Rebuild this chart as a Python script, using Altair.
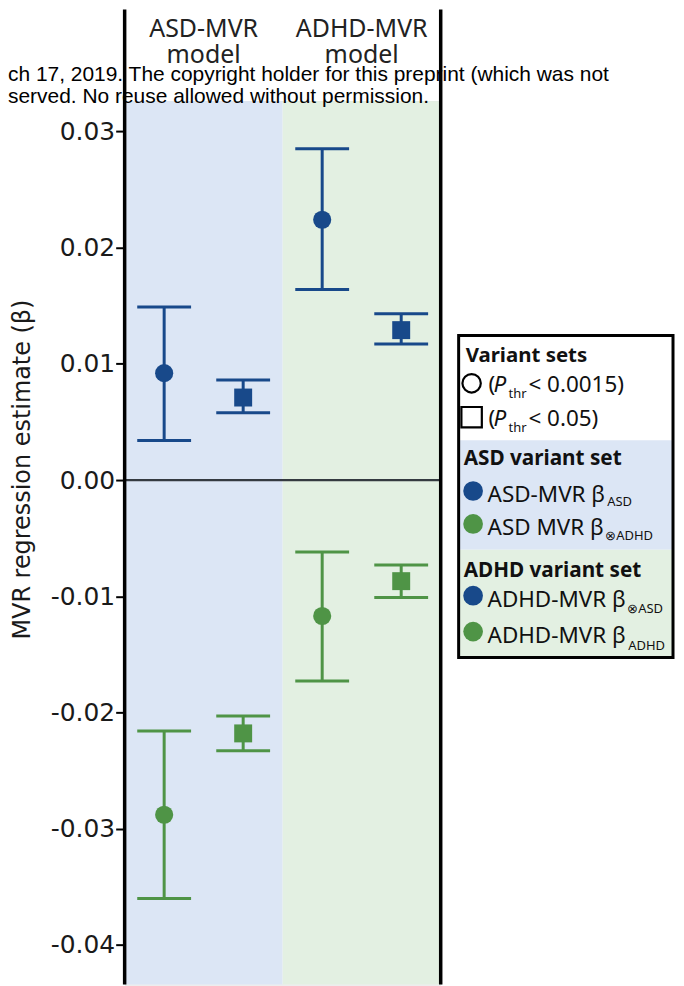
import altair as alt
import pandas as pd

# ---------------- data ----------------
models = ["ASD-MVR", "ADHD-MVR"]
header_line1 = ["ASD-MVR", "ADHD-MVR"]
header_line2 = ["model", "model"]

slots = ["ASD-MVR / Pthr<0.0015", "ASD-MVR / Pthr<0.05",
         "ADHD-MVR / Pthr<0.0015", "ADHD-MVR / Pthr<0.05"]
slot_threshold = ["P<0.0015", "P<0.05", "P<0.0015", "P<0.05"]
thresholds = ["P<0.0015", "P<0.05"]

# beta on ASD (blue)
blue_est = [0.0092, 0.0071, 0.0224, 0.0129]
blue_lo = [0.0034, 0.0058, 0.0164, 0.0117]
blue_hi = [0.0149, 0.0086, 0.0285, 0.0143]
# beta on ADHD (green)
green_est = [-0.0288, -0.0218, -0.0117, -0.0087]
green_lo = [-0.0360, -0.0233, -0.0173, -0.0101]
green_hi = [-0.0216, -0.0203, -0.0062, -0.0073]
series = ["beta ASD", "beta ADHD"]

y_ticks = [0.03, 0.02, 0.01, 0.0, -0.01, -0.02, -0.03, -0.04]
y_domain = [-0.04341, 0.0326]
y_title = "MVR regression estimate (\u03b2)"

watermark = ["ch 17, 2019. The copyright holder for this preprint (which was not",
             "served. No reuse allowed without permission."]

legend_headings = ["Variant sets", "ASD variant set", "ADHD variant set"]
legend_thresholds = ["< 0.0015)", "< 0.05)"]
legend_labels = ["ASD-MVR \u03b2", "ASD MVR \u03b2", "ADHD-MVR \u03b2", "ADHD-MVR \u03b2"]
legend_subs = ["ASD", "\u2297ADHD", "\u2297ASD", "ADHD"]
legend_series = ["beta ASD", "beta ADHD", "beta ASD", "beta ADHD"]

# ---------------- styling ----------------
BLUE = "#18498a"
GREEN = "#4f9446"
BG_BLUE = "#dce6f5"
BG_GREEN = "#e3f0e2"
W, H = 317, 886
FONT = "Noto Sans"

rows = []
for i, s in enumerate(slots):
    rows.append(dict(slot=s, thr=slot_threshold[i], series=series[0],
                     est=blue_est[i], lo=blue_lo[i], hi=blue_hi[i]))
    rows.append(dict(slot=s, thr=slot_threshold[i], series=series[1],
                     est=green_est[i], lo=green_lo[i], hi=green_hi[i]))
df = pd.DataFrame(rows)
bg_df = pd.DataFrame({"model": models, "l1": header_line1, "l2": header_line2})
one = pd.DataFrame({"k": [0]})

YS = alt.Scale(domain=y_domain, nice=False, zero=False)
YAX = alt.Axis(values=y_ticks,
               labelExpr="datum.value < 0 ? '-' + format(-datum.value, '.2f') : format(datum.value, '.2f')",
               labelFont="DejaVu Sans", labelFontSize=25, labelColor="#1a1a1a",
               tickColor="black", tickWidth=2, tickSize=9, labelPadding=1,
               domain=False, grid=False, title=None)
X_slot = alt.X("slot:N", scale=alt.Scale(type="point", domain=slots, padding=0.5), axis=None)
COL = alt.Color("series:N", scale=alt.Scale(domain=series, range=[BLUE, GREEN]), legend=None)

bg = alt.Chart(bg_df).mark_rect().encode(
    x=alt.X("model:N", scale=alt.Scale(type="band", domain=models, paddingInner=0, paddingOuter=0), axis=None),
    y=alt.value(0), y2=alt.value(H),
    color=alt.Color("model:N", scale=alt.Scale(domain=models, range=[BG_BLUE, BG_GREEN]), legend=None),
)

XH = alt.X("model:N", scale=alt.Scale(type="point", domain=models, padding=0.5), axis=None)
head1 = alt.Chart(bg_df).mark_text(font=FONT, fontSize=25, color="#222", baseline="alphabetic").encode(
    x=XH, y=alt.value(-64), text="l1:N")
head2 = alt.Chart(bg_df).mark_text(font=FONT, fontSize=25, color="#222", baseline="alphabetic").encode(
    x=XH, y=alt.value(-38), text="l2:N")

wm1 = alt.Chart(one).mark_text(text=watermark[0], font="Liberation Sans", fontSize=21, color="black",
                               align="left", baseline="alphabetic").encode(x=alt.value(-117), y=alt.value(-20))
wm2 = alt.Chart(one).mark_text(text=watermark[1], font="Liberation Sans", fontSize=21, color="black",
                               align="left", baseline="alphabetic").encode(x=alt.value(-117), y=alt.value(1.5))

zero = alt.Chart(one).mark_rule(color="#343a40", strokeWidth=2.3).encode(
    y=alt.datum(0, scale=YS, axis=YAX))

bars = alt.Chart(df).mark_rule(strokeWidth=3, opacity=1).encode(
    x=X_slot, y=alt.Y("lo:Q", scale=YS, axis=YAX), y2="hi:Q", color=COL)
cap_lo = alt.Chart(df).mark_tick(size=54, thickness=3, opacity=1).encode(
    x=X_slot, y=alt.Y("lo:Q", scale=YS, axis=YAX), color=COL)
cap_hi = alt.Chart(df).mark_tick(size=54, thickness=3, opacity=1).encode(
    x=X_slot, y=alt.Y("hi:Q", scale=YS, axis=YAX), color=COL)
circles = alt.Chart(df).transform_filter(alt.datum.thr == thresholds[0]).mark_point(
    shape="circle", filled=True, opacity=1, size=330, strokeWidth=0).encode(
    x=X_slot, y=alt.Y("est:Q", scale=YS, axis=YAX), color=COL)
squares = alt.Chart(df).transform_filter(alt.datum.thr == thresholds[1]).mark_point(
    shape="square", filled=True, opacity=1, size=324, strokeWidth=0).encode(
    x=X_slot, y=alt.Y("est:Q", scale=YS, axis=YAX), color=COL)

left_line = alt.Chart(one).mark_rule(color="black", strokeWidth=3.5).encode(
    x=alt.value(0), y=alt.value(-92), y2=alt.value(H))
right_line = alt.Chart(one).mark_rule(color="black", strokeWidth=3.5).encode(
    x=alt.value(W), y=alt.value(-92), y2=alt.value(H))

ytitle = alt.Chart(one).mark_text(text=y_title, angle=270, font="DejaVu Sans", fontSize=24,
                                  color="#1a1a1a", align="center", baseline="middle").encode(
    x=alt.value(-102), y=alt.value(369.5))


# ---------------- manual legend ----------------
def box(x, x2, y, y2, fill, stroke=None, sw=0):
    kw = dict(fill=fill)
    if stroke:
        kw.update(stroke=stroke, strokeWidth=sw)
    return alt.Chart(one).mark_rect(**kw).encode(
        x=alt.value(x), x2=alt.value(x2), y=alt.value(y), y2=alt.value(y2))


def txt(text, x, y, size=22.5, weight="normal", style="normal", font=FONT):
    return alt.Chart(one).mark_text(text=text, font=font, fontSize=size, fontWeight=weight,
                                    fontStyle=style, align="left", baseline="alphabetic",
                                    color="#111").encode(x=alt.value(x), y=alt.value(y))


def sym(x, y, shape, size, fill=None, stroke=None):
    kw = dict(shape=shape, size=size, opacity=1)
    if fill:
        kw.update(filled=True, fill=fill, strokeWidth=0)
    else:
        kw.update(filled=False, stroke=stroke, strokeWidth=2.2, fill="white", fillOpacity=0)
    return alt.Chart(one).mark_point(**kw).encode(x=alt.value(x), y=alt.value(y))


LX0, LX1 = 335, 550
legend_layers = [
    box(LX0, LX1, 235, 340, "white"),
    box(LX0, LX1, 340, 450, BG_BLUE),
    box(LX0, LX1, 450, 558, BG_GREEN),
    box(LX0, LX1, 235, 558, "none", "black", 3),
    txt(legend_headings[0], 342, 262, 20.5, "bold"),
    sym(348, 283, "circle", 340, stroke="black"),
    sym(348, 317, "square", 420, stroke="black"),
]
for yb, lab in zip([292, 326], legend_thresholds):
    legend_layers += [
        txt("(", 365, yb),
        txt("P", 370, yb, style="italic"),
        txt("thr", 385, yb + 6, 13),
        txt(lab, 405, yb),
    ]
legend_layers += [
    txt(legend_headings[1], 340, 365, 20.8, "bold"),
    txt(legend_headings[2], 340, 477, 20.8, "bold"),
]
row_base = [402, 435, 507, 543]
row_sub = [406, 440, 513, 550]
row_subx = [484, 482, 504, 505]
for i in range(4):
    c = BLUE if legend_series[i] == series[0] else GREEN
    legend_layers += [
        sym(349.5, row_base[i] - 11, "circle", 390, fill=c),
        txt(legend_labels[i], 364, row_base[i]),
        txt(legend_subs[i], row_subx[i], row_sub[i], 13),
    ]

chart = alt.layer(
    bg, head1, head2, wm1, wm2, zero, bars, cap_lo, cap_hi, circles, squares,
    left_line, right_line, ytitle, *legend_layers
).resolve_scale(x="independent", color="independent").properties(
    width=W, height=H,
    autosize=alt.AutoSizeParams(type="none"),
    padding={"left": 117, "top": 92, "right": 236, "bottom": 0},
).configure_view(stroke=None).configure(background="white")

chart.save("out.html", embed_options={"renderer": "svg", "actions": False})
